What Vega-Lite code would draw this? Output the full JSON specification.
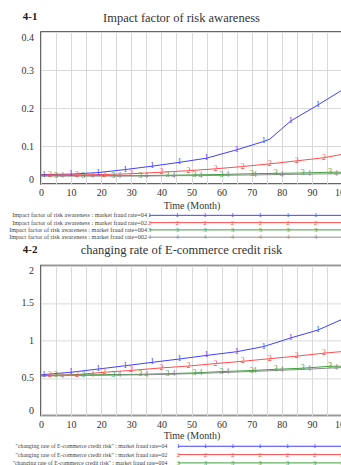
{
  "$schema": "https://vega.github.io/schema/vega-lite/v6.json",
  "padding": {"left": 8, "top": 9, "right": 0, "bottom": 0},
  "bounds": "flush",
  "spacing": 23.7,
  "resolve": {"scale": {"x": "independent", "y": "independent", "xOffset": "independent"}},
  "config": {
    "font": "Liberation Serif",
    "view": {"stroke": null},
    "axis": {"labelFont": "Liberation Serif", "titleFont": "Liberation Serif", "labelColor": "#333", "titleColor": "#333", "titleFontWeight": "normal", "ticks": false, "domain": false, "gridColor": "#d9d9d9", "gridWidth": 1},
    "title": {"font": "Liberation Serif", "fontWeight": "normal", "color": "#333", "fontSize": 12.5, "frame": "group"}
  },
  "datasets": {
    "a": [
      {"s": "1", "t": 0, "v": 0.025}, {"s": "1", "t": 1, "v": 0.025, "m": "1"}, {"s": "1", "t": 10, "v": 0.026, "m": "1"}, {"s": "1", "t": 19, "v": 0.030, "m": "1"}, {"s": "1", "t": 28, "v": 0.038, "m": "1"}, {"s": "1", "t": 37, "v": 0.047, "m": "1"}, {"s": "1", "t": 46, "v": 0.057, "m": "1"}, {"s": "1", "t": 55, "v": 0.068, "m": "1"}, {"s": "1", "t": 65, "v": 0.090, "m": "1"}, {"s": "1", "t": 74, "v": 0.112, "m": "1"}, {"s": "1", "t": 76, "v": 0.118}, {"s": "1", "t": 83, "v": 0.166, "m": "1"}, {"s": "1", "t": 92, "v": 0.208, "m": "1"}, {"s": "1", "t": 100, "v": 0.247},
      {"s": "2", "t": 0, "v": 0.024}, {"s": "2", "t": 3, "v": 0.024, "m": "2"}, {"s": "2", "t": 12, "v": 0.024, "m": "2"}, {"s": "2", "t": 21, "v": 0.025, "m": "2"}, {"s": "2", "t": 30, "v": 0.027, "m": "2"}, {"s": "2", "t": 40, "v": 0.031, "m": "2"}, {"s": "2", "t": 49, "v": 0.035, "m": "2"}, {"s": "2", "t": 58, "v": 0.040, "m": "2"}, {"s": "2", "t": 67, "v": 0.046, "m": "2"}, {"s": "2", "t": 76, "v": 0.053, "m": "2"}, {"s": "2", "t": 85, "v": 0.061, "m": "2"}, {"s": "2", "t": 94, "v": 0.069, "m": "2"}, {"s": "2", "t": 100, "v": 0.078},
      {"s": "3", "t": 0, "v": 0.022}, {"s": "3", "t": 5, "v": 0.022, "m": "3"}, {"s": "3", "t": 14, "v": 0.022, "m": "3"}, {"s": "3", "t": 24, "v": 0.022, "m": "3"}, {"s": "3", "t": 33, "v": 0.022, "m": "3"}, {"s": "3", "t": 42, "v": 0.023, "m": "3"}, {"s": "3", "t": 51, "v": 0.024, "m": "3"}, {"s": "3", "t": 60, "v": 0.025, "m": "3"}, {"s": "3", "t": 70, "v": 0.027, "m": "3"}, {"s": "3", "t": 78, "v": 0.028, "m": "3"}, {"s": "3", "t": 87, "v": 0.029, "m": "3"}, {"s": "3", "t": 96, "v": 0.031, "m": "3"}, {"s": "3", "t": 100, "v": 0.031},
      {"s": "4", "t": 0, "v": 0.021}, {"s": "4", "t": 7, "v": 0.021, "m": "4"}, {"s": "4", "t": 17, "v": 0.021, "m": "4"}, {"s": "4", "t": 26, "v": 0.021, "m": "4"}, {"s": "4", "t": 35, "v": 0.021, "m": "4"}, {"s": "4", "t": 44, "v": 0.022, "m": "4"}, {"s": "4", "t": 53, "v": 0.022, "m": "4"}, {"s": "4", "t": 62, "v": 0.023, "m": "4"}, {"s": "4", "t": 71, "v": 0.024, "m": "4"}, {"s": "4", "t": 80, "v": 0.025, "m": "4"}, {"s": "4", "t": 89, "v": 0.026, "m": "4"}, {"s": "4", "t": 98, "v": 0.027, "m": "4"}, {"s": "4", "t": 100, "v": 0.027}
    ],
    "b": [
      {"s": "1", "t": 0, "v": 0.54}, {"s": "1", "t": 1, "v": 0.545, "m": "1"}, {"s": "1", "t": 10, "v": 0.575, "m": "1"}, {"s": "1", "t": 19, "v": 0.618, "m": "1"}, {"s": "1", "t": 28, "v": 0.662, "m": "1"}, {"s": "1", "t": 37, "v": 0.708, "m": "1"}, {"s": "1", "t": 46, "v": 0.752, "m": "1"}, {"s": "1", "t": 55, "v": 0.80, "m": "1"}, {"s": "1", "t": 65, "v": 0.849, "m": "1"}, {"s": "1", "t": 74, "v": 0.918, "m": "1"}, {"s": "1", "t": 83, "v": 1.033, "m": "1"}, {"s": "1", "t": 92, "v": 1.138, "m": "1"}, {"s": "1", "t": 100, "v": 1.28},
      {"s": "2", "t": 0, "v": 0.535}, {"s": "2", "t": 3, "v": 0.535, "m": "2"}, {"s": "2", "t": 12, "v": 0.545, "m": "2"}, {"s": "2", "t": 21, "v": 0.575, "m": "2"}, {"s": "2", "t": 30, "v": 0.600, "m": "2"}, {"s": "2", "t": 40, "v": 0.633, "m": "2"}, {"s": "2", "t": 49, "v": 0.658, "m": "2"}, {"s": "2", "t": 58, "v": 0.691, "m": "2"}, {"s": "2", "t": 67, "v": 0.722, "m": "2"}, {"s": "2", "t": 76, "v": 0.756, "m": "2"}, {"s": "2", "t": 85, "v": 0.79, "m": "2"}, {"s": "2", "t": 94, "v": 0.83, "m": "2"}, {"s": "2", "t": 100, "v": 0.851},
      {"s": "3", "t": 0, "v": 0.53}, {"s": "3", "t": 5, "v": 0.535, "m": "3"}, {"s": "3", "t": 14, "v": 0.54, "m": "3"}, {"s": "3", "t": 24, "v": 0.545, "m": "3"}, {"s": "3", "t": 33, "v": 0.548, "m": "3"}, {"s": "3", "t": 42, "v": 0.556, "m": "3"}, {"s": "3", "t": 51, "v": 0.567, "m": "3"}, {"s": "3", "t": 60, "v": 0.584, "m": "3"}, {"s": "3", "t": 70, "v": 0.598, "m": "3"}, {"s": "3", "t": 78, "v": 0.615, "m": "3"}, {"s": "3", "t": 87, "v": 0.629, "m": "3"}, {"s": "3", "t": 96, "v": 0.655, "m": "3"}, {"s": "3", "t": 100, "v": 0.655},
      {"s": "4", "t": 0, "v": 0.525}, {"s": "4", "t": 7, "v": 0.53, "m": "4"}, {"s": "4", "t": 17, "v": 0.533, "m": "4"}, {"s": "4", "t": 26, "v": 0.538, "m": "4"}, {"s": "4", "t": 35, "v": 0.542, "m": "4"}, {"s": "4", "t": 44, "v": 0.55, "m": "4"}, {"s": "4", "t": 53, "v": 0.56, "m": "4"}, {"s": "4", "t": 62, "v": 0.574, "m": "4"}, {"s": "4", "t": 71, "v": 0.588, "m": "4"}, {"s": "4", "t": 80, "v": 0.602, "m": "4"}, {"s": "4", "t": 89, "v": 0.617, "m": "4"}, {"s": "4", "t": 98, "v": 0.635, "m": "4"}, {"s": "4", "t": 100, "v": 0.637}
    ],
    "la": [
      {"s": "1", "label": "Impact factor of risk awareness : market fraud rate=04"},
      {"s": "2", "label": "Impact factor of risk awareness : market fraud rate=02"},
      {"s": "3", "label": "Impact factor of risk awareness : market fraud rate=004"},
      {"s": "4", "label": "Impact factor of risk awareness : market fraud rate=002"}
    ],
    "lb": [
      {"s": "1", "label": "\"changing rate of E-commerce credit risk\" : market fraud rate=04"},
      {"s": "2", "label": "\"changing rate of E-commerce credit risk\" : market fraud rate=02"},
      {"s": "3", "label": "\"changing rate of E-commerce credit risk\" : market fraud rate=004"},
      {"s": "4", "label": "\"changing rate of E-commerce credit risk\" : market fraud rate=002"}
    ],
    "lm": [
      {"s": "1", "i": 0}, {"s": "1", "i": 1}, {"s": "1", "i": 2}, {"s": "1", "i": 3}, {"s": "1", "i": 4}, {"s": "1", "i": 5}, {"s": "1", "i": 6},
      {"s": "2", "i": 0}, {"s": "2", "i": 1}, {"s": "2", "i": 2}, {"s": "2", "i": 3}, {"s": "2", "i": 4}, {"s": "2", "i": 5}, {"s": "2", "i": 6},
      {"s": "3", "i": 0}, {"s": "3", "i": 1}, {"s": "3", "i": 2}, {"s": "3", "i": 3}, {"s": "3", "i": 4}, {"s": "3", "i": 5}, {"s": "3", "i": 6},
      {"s": "4", "i": 0}, {"s": "4", "i": 1}, {"s": "4", "i": 2}, {"s": "4", "i": 3}, {"s": "4", "i": 4}, {"s": "4", "i": 5}, {"s": "4", "i": 6}
    ]
  },
  "vconcat": [
    {
      "width": 301, "height": 152,
      "view": {"stroke": "#333", "strokeWidth": 1.5},
      "title": {"text": "Impact factor of risk awareness", "dx": -10, "dy": 23, "offset": 9},
      "data": {"name": "a"},
      "encoding": {
        "x": {"field": "t", "type": "quantitative", "scale": {"domain": [0, 100], "nice": false},
          "axis": {"values": [0, 5, 10, 15, 20, 25, 30, 35, 40, 45, 50, 55, 60, 65, 70, 75, 80, 85, 90, 95, 100], "labelExpr": "datum.value % 10 === 0 ? datum.label : ''", "title": "Time (Month)", "labelFontSize": 10, "titleFontSize": 10, "labelPadding": 3, "titlePadding": 3, "labelFlush": false, "grid": true}},
        "y": {"field": "v", "type": "quantitative", "scale": {"domain": [0, 0.4], "nice": false},
          "axis": {"values": [0, 0.1, 0.2, 0.3, 0.4], "format": "~g", "labelFontSize": 10, "labelFlush": true, "labelPadding": 7.5, "grid": true, "title": "4-1", "titleAngle": 0, "titleAlign": "right", "titleBaseline": "alphabetic", "titleX": -4, "titleY": -13, "titleFontSize": 11, "titleFontWeight": "bold", "titleColor": "#222"}},
        "color": {"field": "s", "type": "nominal", "scale": {"domain": ["1", "2", "3", "4"], "range": ["#4040ff", "#ff4d4d", "#40a040", "#8c8c8c"]}, "legend": null}
      },
      "layer": [
        {"mark": {"type": "line", "strokeWidth": 1}},
        {"transform": [{"filter": {"field": "m", "valid": true}}], "mark": {"type": "text", "fontSize": 8, "baseline": "middle"}, "encoding": {"text": {"field": "m"}}}
      ]
    },
    {
      "width": 301, "height": 33.1,
      "encoding": {
        "y": {"field": "label", "type": "nominal", "sort": "descending", "scale": {"paddingInner": 0, "paddingOuter": 0.275, "align": 1},
          "axis": {"title": null, "offset": -108.5, "labelPadding": 3, "labelFontSize": 6.2, "labelColor": "#444", "labelLimit": 0, "grid": false}},
        "color": {"field": "s", "type": "nominal", "scale": {"domain": ["1", "2", "3", "4"], "range": ["#4040ff", "#ff4d4d", "#40a040", "#8c8c8c"]}, "legend": null}
      },
      "layer": [
        {"data": {"name": "la"}, "mark": {"type": "rule", "strokeWidth": 1},
          "encoding": {"x": {"datum": 0, "type": "quantitative", "scale": {"domain": [-3.917, 6.949], "nice": false, "zero": false}, "axis": null}, "x2": {"datum": 7}}},
        {"data": {"name": "lm"}, "transform": [{"lookup": "s", "from": {"data": {"name": "la"}, "key": "s", "fields": ["label"]}}],
          "mark": {"type": "text", "fontSize": 7, "baseline": "middle"},
          "encoding": {"x": {"field": "i", "type": "quantitative", "axis": null}, "xOffset": {"field": "s", "type": "nominal", "scale": {"type": "point", "domain": ["3", "4", "1", "2"], "range": [5.5, 26.5], "padding": 0}}, "text": {"field": "s"}}}
      ]
    },
    {
      "width": 301, "height": 150,
      "view": {"stroke": "#333", "strokeWidth": 1.5},
      "title": {"text": "changing rate of E-commerce credit risk", "dx": -10, "dy": 23, "offset": 9.5},
      "data": {"name": "b"},
      "encoding": {
        "x": {"field": "t", "type": "quantitative", "scale": {"domain": [0, 100], "nice": false},
          "axis": {"values": [0, 5, 10, 15, 20, 25, 30, 35, 40, 45, 50, 55, 60, 65, 70, 75, 80, 85, 90, 95, 100], "labelExpr": "datum.value % 10 === 0 ? datum.label : ''", "title": "Time (Month)", "labelFontSize": 10, "titleFontSize": 10, "labelPadding": 4, "titlePadding": 1, "labelFlush": false, "grid": true}},
        "y": {"field": "v", "type": "quantitative", "scale": {"domain": [0, 2], "nice": false},
          "axis": {"values": [0, 0.5, 1, 1.5, 2], "format": "~g", "labelFontSize": 10, "labelFlush": true, "labelPadding": 7.5, "grid": true, "title": "4-2", "titleAngle": 0, "titleAlign": "right", "titleBaseline": "alphabetic", "titleX": -4, "titleY": -13, "titleFontSize": 11, "titleFontWeight": "bold", "titleColor": "#222"}},
        "color": {"field": "s", "type": "nominal", "scale": {"domain": ["1", "2", "3", "4"], "range": ["#4040ff", "#ff4d4d", "#40a040", "#8c8c8c"]}, "legend": null}
      },
      "layer": [
        {"mark": {"type": "line", "strokeWidth": 1}},
        {"transform": [{"filter": {"field": "m", "valid": true}}], "mark": {"type": "text", "fontSize": 8, "baseline": "middle"}, "encoding": {"text": {"field": "m"}}}
      ]
    },
    {
      "width": 301, "height": 36.3,
      "encoding": {
        "y": {"field": "label", "type": "nominal", "sort": "descending", "scale": {"paddingInner": 0, "paddingOuter": 0.18, "align": 1},
          "axis": {"title": null, "offset": -136.8, "labelPadding": 11, "labelFontSize": 5.8, "labelColor": "#444", "labelLimit": 0, "grid": false}},
        "color": {"field": "s", "type": "nominal", "scale": {"domain": ["1", "2", "3", "4"], "range": ["#4040ff", "#ff4d4d", "#40a040", "#8c8c8c"]}, "legend": null}
      },
      "layer": [
        {"data": {"name": "lb"}, "mark": {"type": "rule", "strokeWidth": 1},
          "encoding": {"x": {"datum": 0, "type": "quantitative", "scale": {"domain": [-5.029, 6.0], "nice": false, "zero": false}, "axis": null}, "x2": {"datum": 7}}},
        {"data": {"name": "lm"}, "transform": [{"lookup": "s", "from": {"data": {"name": "lb"}, "key": "s", "fields": ["label"]}}],
          "mark": {"type": "text", "fontSize": 7, "baseline": "middle"},
          "encoding": {"x": {"field": "i", "type": "quantitative", "axis": null}, "xOffset": {"field": "s", "type": "nominal", "scale": {"type": "point", "domain": ["3", "4", "1", "2"], "range": [5, 25], "padding": 0}}, "text": {"field": "s"}}}
      ]
    }
  ]
}
